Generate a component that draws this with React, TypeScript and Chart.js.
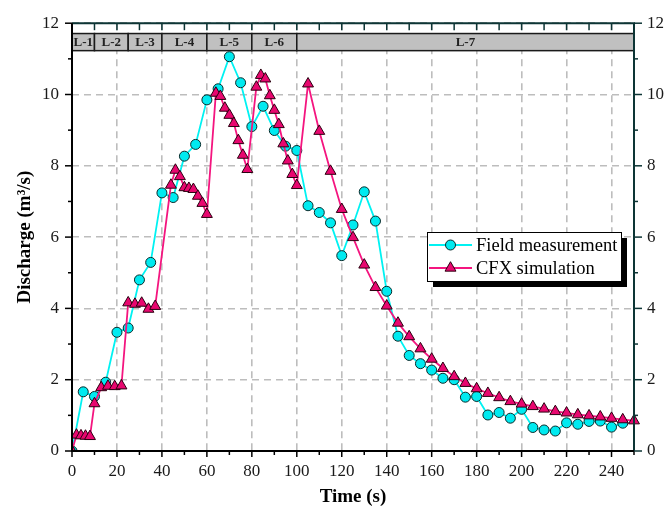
import React, { useEffect, useRef } from 'react';
import { Chart, registerables } from 'chart.js';

Chart.register(...registerables);

// ---------------- data ----------------
const fieldTime = [0, 5, 10, 15, 20, 25, 30, 35, 40, 45, 50, 55, 60, 65, 70, 75, 80, 85, 90, 95, 100, 105, 110, 115, 120, 125, 130, 135, 140, 145, 150, 155, 160, 165, 170, 175, 180, 185, 190, 195, 200, 205, 210, 215, 220, 225, 230, 235, 240, 245];
const fieldQ = [0, 1.66, 1.53, 1.93, 3.33, 3.45, 4.8, 5.29, 7.24, 7.11, 8.27, 8.6, 9.85, 10.16, 11.06, 10.33, 9.1, 9.67, 8.99, 8.55, 8.43, 6.88, 6.69, 6.4, 5.48, 6.34, 7.27, 6.45, 4.48, 3.22, 2.68, 2.45, 2.27, 2.04, 2.0, 1.51, 1.53, 1.01, 1.08, 0.92, 1.17, 0.66, 0.59, 0.56, 0.79, 0.75, 0.83, 0.84, 0.67, 0.78];

const cfxTime = [0, 2, 4, 6, 8, 10, 13, 16, 19, 22, 25, 28, 31, 34, 37, 44, 46, 48, 50, 52, 54, 56, 58, 60, 64, 66, 68, 70, 72, 74, 76, 78, 82, 84, 86, 88, 90, 92, 94, 96, 98, 100, 105, 110, 115, 120, 125, 130, 135, 140, 145, 150, 155, 160, 165, 170, 175, 180, 185, 190, 195, 200, 205, 210, 215, 220, 225, 230, 235, 240, 245, 250];
const cfxQ = [0, 0.45, 0.43, 0.42, 0.41, 1.33, 1.78, 1.82, 1.81, 1.83, 4.16, 4.12, 4.15, 3.98, 4.06, 7.46, 7.88, 7.7, 7.39, 7.37, 7.34, 7.15, 6.95, 6.64, 10.04, 9.95, 9.62, 9.42, 9.19, 8.71, 8.3, 7.9, 10.21, 10.54, 10.44, 9.97, 9.56, 9.16, 8.62, 8.14, 7.76, 7.45, 10.3, 8.97, 7.85, 6.78, 5.99, 5.22, 4.59, 4.07, 3.59, 3.21, 2.87, 2.58, 2.32, 2.09, 1.9, 1.75, 1.62, 1.5, 1.39, 1.32, 1.25, 1.18, 1.11, 1.07, 1.02, 0.99, 0.96, 0.92, 0.88, 0.85];

const xTickValues = [0, 20, 40, 60, 80, 100, 120, 140, 160, 180, 200, 220, 240];
const yTickValues = [0, 2, 4, 6, 8, 10, 12];
const stageLabels = ['L-1', 'L-2', 'L-3', 'L-4', 'L-5', 'L-6', 'L-7'];
const stageBounds = [0, 10, 25, 40, 60, 80, 100, 250];
const seriesNames = ['Field measurement', 'CFX simulation'];

// ---------------- styles ----------------
const FONT = "'Liberation Serif', 'Times New Roman', serif";
const CYAN_LINE = '#00f2f2';
const CYAN_FILL = '#00eaf0';
const PINK_LINE = '#f4157f';
const PINK_FILL = '#e8076f';
const TEAL_AXIS = '#0d3535';

function drawTriangle(ctx: CanvasRenderingContext2D, x: number, y: number, r: number) {
  let rad = 0;
  ctx.beginPath();
  ctx.moveTo(x + Math.sin(rad) * r, y - Math.cos(rad) * r);
  rad += (2 * Math.PI) / 3;
  ctx.lineTo(x + Math.sin(rad) * r, y - Math.cos(rad) * r);
  rad += (2 * Math.PI) / 3;
  ctx.lineTo(x + Math.sin(rad) * r, y - Math.cos(rad) * r);
  ctx.closePath();
}

const decorPlugin = {
  id: 'decor',
  beforeDatasetsDraw(chart: any) {
    const { ctx, chartArea, scales } = chart;
    const x = scales.x;
    const y = scales.y;
    const top = y.getPixelForValue(11.71);
    const bot = y.getPixelForValue(11.23);
    ctx.save();
    for (let i = 0; i < stageLabels.length; i++) {
      const x0 = x.getPixelForValue(stageBounds[i]);
      const x1 = x.getPixelForValue(stageBounds[i + 1]);
      ctx.fillStyle = '#c0c0c0';
      ctx.fillRect(x0, top, x1 - x0, bot - top);
      ctx.strokeStyle = '#1a1a1a';
      ctx.lineWidth = 1.5;
      ctx.strokeRect(x0, top, x1 - x0, bot - top);
      ctx.fillStyle = '#222';
      ctx.font = `bold 13px ${FONT}`;
      ctx.textAlign = 'center';
      ctx.textBaseline = 'middle';
      ctx.fillText(stageLabels[i], (x0 + x1) / 2, (top + bot) / 2 + 1);
    }
    ctx.restore();
  },
  afterDraw(chart: any) {
    const { ctx, chartArea, scales } = chart;
    const { left, right, top, bottom } = chartArea;
    const x = scales.x;
    const y = scales.y;
    ctx.save();
    // ticks
    ctx.lineWidth = 1.5;
    // bottom ticks
    ctx.strokeStyle = '#000';
    for (let v = 0; v <= 250; v += 10) {
      const px = x.getPixelForValue(v);
      const len = v % 20 === 0 ? 6 : 4;
      ctx.beginPath();
      ctx.moveTo(px, bottom);
      ctx.lineTo(px, bottom + len);
      ctx.stroke();
    }
    // left ticks
    for (let v = 0; v <= 12; v += 1) {
      const py = y.getPixelForValue(v);
      const len = v % 2 === 0 ? 7 : 4;
      ctx.beginPath();
      ctx.moveTo(left, py);
      ctx.lineTo(left - len, py);
      ctx.stroke();
    }
    ctx.strokeStyle = TEAL_AXIS;
    // top ticks (inward)
    for (let v = 0; v <= 250; v += 10) {
      const px = x.getPixelForValue(v);
      ctx.beginPath();
      ctx.moveTo(px, top);
      ctx.lineTo(px, top + 7);
      ctx.stroke();
    }
    // right ticks
    for (let v = 0; v <= 12; v += 1) {
      const py = y.getPixelForValue(v);
      const len = v % 2 === 0 ? 8 : 4;
      ctx.beginPath();
      ctx.moveTo(right, py);
      ctx.lineTo(right + len, py);
      ctx.stroke();
    }
    // axis lines
    ctx.lineWidth = 2;
    ctx.strokeStyle = TEAL_AXIS;
    ctx.beginPath();
    ctx.moveTo(left, top);
    ctx.lineTo(right, top);
    ctx.lineTo(right, bottom);
    ctx.stroke();
    ctx.strokeStyle = '#000';
    ctx.beginPath();
    ctx.moveTo(left, top);
    ctx.lineTo(left, bottom);
    ctx.lineTo(right, bottom);
    ctx.stroke();

    // legend
    const bx = 427, by = 232, bw = 194, bh = 49;
    ctx.fillStyle = '#000';
    ctx.fillRect(bx + 6, by + 6, bw, bh);
    ctx.fillStyle = '#fff';
    ctx.fillRect(bx, by, bw, bh);
    ctx.strokeStyle = '#000';
    ctx.lineWidth = 1;
    ctx.strokeRect(bx + 0.5, by + 0.5, bw, bh);
    const rows = [245, 268];
    // row 1
    ctx.strokeStyle = CYAN_LINE;
    ctx.lineWidth = 2;
    ctx.beginPath();
    ctx.moveTo(429, rows[0]);
    ctx.lineTo(472, rows[0]);
    ctx.stroke();
    ctx.fillStyle = CYAN_FILL;
    ctx.strokeStyle = '#0a2a2a';
    ctx.lineWidth = 1;
    ctx.beginPath();
    ctx.arc(450.5, rows[0], 5, 0, Math.PI * 2);
    ctx.fill();
    ctx.stroke();
    // row 2
    ctx.strokeStyle = PINK_LINE;
    ctx.lineWidth = 2;
    ctx.beginPath();
    ctx.moveTo(429, rows[1]);
    ctx.lineTo(472, rows[1]);
    ctx.stroke();
    ctx.fillStyle = PINK_FILL;
    ctx.strokeStyle = '#2a0010';
    ctx.lineWidth = 1;
    drawTriangle(ctx, 450.5, rows[1], 6.3);
    ctx.fill();
    ctx.stroke();
    ctx.fillStyle = '#000';
    ctx.font = `18.5px ${FONT}`;
    ctx.textAlign = 'left';
    ctx.textBaseline = 'middle';
    ctx.fillText(seriesNames[0], 476, rows[0] + 1);
    ctx.fillText(seriesNames[1], 476, rows[1] + 1);
    ctx.restore();
  },
};

export default function App() {
  const canvasRef = useRef<HTMLCanvasElement | null>(null);

  useEffect(() => {
    const canvas = canvasRef.current;
    if (!canvas) return;
    const clip = { left: 0, top: 8, right: 8, bottom: 0 };
    const tickFont = { family: FONT, size: 17 };
    const chart = new Chart(canvas, {
      type: 'line',
      data: {
        datasets: [
          {
            label: seriesNames[0],
            data: fieldTime.map((t, i) => ({ x: t, y: fieldQ[i] })),
            borderColor: CYAN_LINE,
            backgroundColor: CYAN_FILL,
            borderWidth: 1.8,
            pointStyle: 'circle',
            pointRadius: 5,
            pointBackgroundColor: CYAN_FILL,
            pointBorderColor: '#0a2a2a',
            pointBorderWidth: 1,
            tension: 0,
            order: 1,
            clip,
          } as any,
          {
            label: seriesNames[1],
            data: cfxTime.map((t, i) => ({ x: t, y: cfxQ[i] })),
            borderColor: PINK_LINE,
            backgroundColor: PINK_FILL,
            borderWidth: 1.8,
            pointStyle: 'triangle',
            pointRadius: 6.3,
            pointBackgroundColor: PINK_FILL,
            pointBorderColor: '#2a0010',
            pointBorderWidth: 1,
            tension: 0,
            order: 0,
            clip,
          } as any,
        ],
      },
      options: {
        animation: false,
        responsive: false,
        maintainAspectRatio: false,
        devicePixelRatio: 1,
        layout: { padding: { top: 19, left: 0, right: 0, bottom: 0 } },
        plugins: {
          legend: { display: false },
          tooltip: { enabled: false },
        },
        scales: {
          x: {
            type: 'linear',
            position: 'bottom',
            min: 0,
            max: 250,
            afterBuildTicks: (s: any) => {
              s.ticks = xTickValues.map((v) => ({ value: v }));
            },
            afterFit: (s: any) => {
              s.height = 62;
            },
            grid: { color: '#bdbdbd', lineWidth: 1.6, drawTicks: false },
            border: { display: false, dash: [7, 5] },
            ticks: { font: tickFont, color: '#1a1a1a', padding: 10, maxRotation: 0, autoSkip: false },
            title: {
              display: true,
              text: 'Time (s)',
              font: { family: FONT, size: 19, weight: 'bold' },
              color: '#000',
              padding: { top: 0, bottom: 5 },
            },
          },
          y: {
            type: 'linear',
            position: 'left',
            min: 0,
            max: 12,
            afterBuildTicks: (s: any) => {
              s.ticks = yTickValues.map((v) => ({ value: v }));
            },
            afterFit: (s: any) => {
              s.width = 72;
            },
            grid: { color: '#bdbdbd', lineWidth: 1.6, drawTicks: false },
            border: { display: false, dash: [7, 5] },
            ticks: { font: tickFont, color: '#1a1a1a', padding: 13 },
            title: {
              display: true,
              text: 'Discharge (m³/s)',
              font: { family: FONT, size: 19, weight: 'bold' },
              color: '#000',
              padding: { top: 14, bottom: 0 },
            },
          },
          y2: {
            type: 'linear',
            position: 'right',
            min: 0,
            max: 12,
            afterBuildTicks: (s: any) => {
              s.ticks = yTickValues.map((v) => ({ value: v }));
            },
            afterFit: (s: any) => {
              s.width = 31;
            },
            grid: { display: false, drawTicks: false },
            border: { display: false },
            ticks: { font: tickFont, color: '#1a1a1a', padding: 13 },
          },
        },
      } as any,
      plugins: [decorPlugin],
    });
    return () => chart.destroy();
  }, []);

  return (
    <div style={{ position: 'fixed', left: 0, top: 0, width: 665, height: 513, background: '#fff' }}>
      <canvas ref={canvasRef} width={665} height={513} style={{ display: 'block', width: 665, height: 513 }} />
    </div>
  );
}
